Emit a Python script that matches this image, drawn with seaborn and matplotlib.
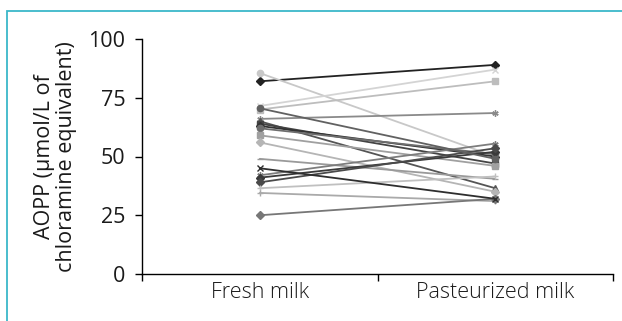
import matplotlib
matplotlib.use("Agg")
import matplotlib.pyplot as plt
import seaborn as sns
import pandas as pd
from matplotlib.patches import Rectangle

# AOPP per sample, fresh vs pasteurized (µmol/L chloramine equivalent)
conditions = ["Fresh milk", "Pasteurized milk"]
fresh = [82, 85.5, 71.5, 70, 66, 65, 64, 63, 62, 59, 56, 49, 42, 41, 39, 36.5, 34.5, 25, 45, 70.5]
pasteurized = [89, 50, 87, 82, 68.5, 36.5, 47, 50, 51, 46, 35, 40.5, 55.5, 52, 53.5, 41.5, 31, 32, 32, 49]
line_colors = ["#222222", "#c8c8c8", "#d4d4d4", "#bdbdbd", "#8a8a8a", "#555555",
               "#444444", "#333333", "#6e6e6e", "#a0a0a0", "#b5b5b5", "#9a9a9a",
               "#7d7d7d", "#3a3a3a", "#4a4a4a", "#c0c0c0", "#aaaaaa", "#777777",
               "#2e2e2e", "#616161"]
marker_cycle = ["D", "o", "x", "s", (6, 2, 0), "^", "s", "D", "o", "s",
                "D", "_", (6, 2, 0), "D", "D", "+", "+", "D", "x", "o"]

rows = []
for i, (a, b) in enumerate(zip(fresh, pasteurized)):
    rows.append({"sample": i, "pos": 0, "value": a})
    rows.append({"sample": i, "pos": 1, "value": b})
df = pd.DataFrame(rows)

sns.set_theme(style="ticks")
plt.rcParams["font.family"] = ["Open Sans", "DejaVu Sans"]

W, H = 622, 321
fig = plt.figure(figsize=(W / 100, H / 100), dpi=100)
ax = fig.add_axes([142 / W, 1 - 274 / H, (613 - 142) / W, (274 - 39) / H])

for i, sub in df.groupby("sample"):
    sns.lineplot(data=sub, x="pos", y="value", color=line_colors[i],
                 marker=marker_cycle[i], markersize=4.5, linewidth=1.3,
                 markeredgewidth=1.0, markeredgecolor=line_colors[i],
                 legend=False, ax=ax)

text_color = "#1a1a1a"
ax.set_xlim(-0.5, 1.5)
ax.set_ylim(0, 100)
ax.set_yticks([0, 25, 50, 75, 100])
ax.set_yticklabels(["0", "25", "50", "75", "100"], fontsize=15.5, color=text_color)
ax.set_xticks([-0.5, 0.5, 1.5])
ax.set_xticklabels([])
ax.set_xticks([0, 1], minor=True)
ax.set_xticklabels(conditions, minor=True, fontsize=15.5, color=text_color,
                   fontweight="light")
ax.tick_params(axis="x", which="minor", length=0, pad=6)
ax.tick_params(axis="x", which="major", length=5, width=1, color="black", direction="out")
ax.tick_params(axis="y", length=5, width=1, color="black", pad=7)
ax.set_xlabel("")
ax.set_ylabel("AOPP (µmol/L of\nchloramine equivalent)", fontsize=15.5, color=text_color,
              linespacing=1.05)
ax.yaxis.set_label_coords((77 - 142) / 471, 0.5)
for side in ["top", "right"]:
    ax.spines[side].set_visible(False)
for side in ["left", "bottom"]:
    ax.spines[side].set_color("black")
    ax.spines[side].set_linewidth(1)

# teal frame around the figure panel
fig.patches.append(Rectangle((7.5 / W, -0.1), 1.2, 1 - 10.5 / H + 0.1,
                             transform=fig.transFigure, fill=False,
                             edgecolor="#3bb8c9", linewidth=1.3))

fig.savefig("out.png", dpi=100)
